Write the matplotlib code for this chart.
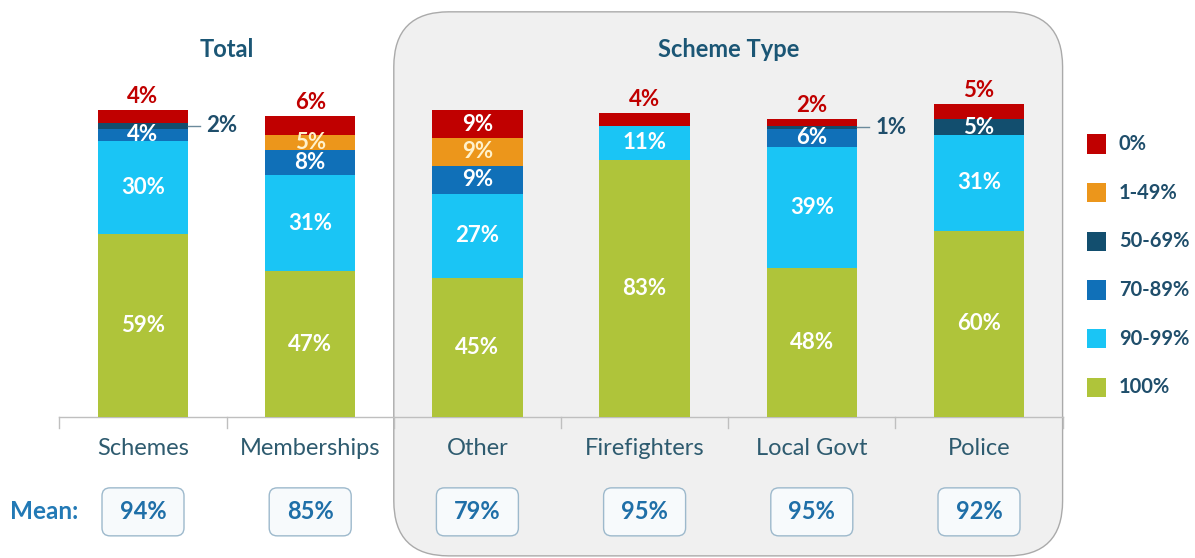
import matplotlib
matplotlib.use("Agg")
import matplotlib.pyplot as plt
from matplotlib.patches import FancyBboxPatch, Rectangle
from matplotlib.transforms import IdentityTransform
import numpy as np

plt.rcParams['font.family'] = ['Lato', 'DejaVu Sans']

# ---- data ----
categories = ['Schemes', 'Memberships', 'Other', 'Firefighters', 'Local Govt', 'Police']
bands = ['100%', '90-99%', '70-89%', '50-69%', '1-49%', '0%']   # stacking order, bottom -> top
band_colors = ['#AFC43A', '#1AC5F5', '#1070B8', '#124E6E', '#EC961B', '#C00000']
label_colors = ['white', 'white', 'white', 'white', '#FFF2CC', 'white']

v100 = [59, 47, 45, 83, 48, 60]
v90_99 = [30, 31, 27, 11, 39, 31]
v70_89 = [4, 8, 9, 0, 6, 0]
v50_69 = [2, 0, 0, 0, 1, 5]
v1_49 = [0, 5, 9, 0, 0, 0]
v0 = [4, 6, 9, 4, 2, 5]
means = ['94%', '85%', '79%', '95%', '95%', '92%']

group_titles = ['Total', 'Scheme Type']
group_members = [[0, 1], [2, 3, 4, 5]]

series = [v100, v90_99, v70_89, v50_69, v1_49, v0]

# ---- figure ----
fig = plt.figure(figsize=(11.95, 5.58), dpi=100)
ax = fig.add_axes([0, 0, 1, 1])
px_x = 167.2   # px per category
px_y = 3.10    # px per percent
x0, y0 = 143, 141
ax.set_xlim(-x0 / px_x, (1195 - x0) / px_x)
ax.set_ylim(-y0 / px_y, (558 - y0) / px_y)
ax.axis('off')

x = np.arange(len(categories))

# rounded panel behind scheme-type group
disp = ax.transData.transform
(bx0, by0) = disp((1.5, -44.8))
(bx1, by1) = disp((5.5, 130.7))
panel = FancyBboxPatch((bx0, by0), bx1 - bx0, by1 - by0,
                       boxstyle="round,pad=0,rounding_size=55",
                       transform=IdentityTransform(), facecolor='#F0F0F0',
                       edgecolor='#AAAAAA', linewidth=1.0, zorder=0, clip_on=False)
ax.add_artist(panel)

# axis line + tick separators
ax.plot([-0.5, 5.5], [0, 0], color='#BFBFBF', lw=1, zorder=1)
for t in np.arange(-0.5, 6, 1.0):
    ax.plot([t, t], [0, -3.6], color='#BFBFBF', lw=1, zorder=1)

# stacked bars
width = 0.54
fs = 16
bottom = np.zeros(len(categories))
for i, (vals, col) in enumerate(zip(series, band_colors)):
    vals = np.array(vals, dtype=float)
    ax.bar(x, vals, width, bottom=bottom, color=col, zorder=2)
    for j, v in enumerate(vals):
        if v == 0:
            continue
        mid = bottom[j] + v / 2
        if i == len(series) - 1 and v < 7:
            # small 0% band: label above the bar
            ax.text(x[j], bottom[j] + v + 4.4, f"{int(v)}%", ha='center', va='center',
                    color='#C00000', fontsize=fs, fontweight='bold')
        elif v < 3:
            # tiny band: leader line to the right
            xr = x[j] + width / 2
            ax.plot([xr, xr + 0.07], [mid, mid], color='#6B8A9C', lw=1, zorder=3)
            ax.text(xr + 0.11, mid, f"{int(v)}%", ha='left', va='center',
                    color='#1F4E6B', fontsize=fs, fontweight='bold')
        else:
            ax.text(x[j], mid, f"{int(v)}%", ha='center', va='center',
                    color=label_colors[i], fontsize=fs, fontweight='bold', zorder=4)
    bottom += vals

# category labels
for j, c in enumerate(categories):
    ax.text(x[j], -10.3, c, ha='center', va='center', color='#2E5B6F', fontsize=17)

# group titles
for title, members in zip(group_titles, group_members):
    ax.text(np.mean(x[members]), 118.4, title, ha='center', va='center',
            color='#1B5675', fontsize=17, fontweight='bold')

# mean row
ax.text(-0.59, -30.6, 'Mean:', ha='center', va='center', color='#2279B5',
        fontsize=17.5, fontweight='bold')
bw, bh = 82 / px_x, 48 / px_y
for j, m in enumerate(means):
    ax.add_patch(FancyBboxPatch((x[j] - bw / 2, -30.6 - bh / 2), bw, bh,
                                boxstyle='round,pad=0,rounding_size=0.048',
                                mutation_aspect=px_x / px_y, facecolor='#F7FAFC',
                                edgecolor='#9DB9CC', linewidth=1, zorder=2))
    ax.text(x[j], -30.6, m, ha='center', va='center', color='#1F6FA8',
            fontsize=17, fontweight='bold', zorder=3)

# legend (top band first)
leg_x = 5.646
for k, idx in enumerate(range(len(bands) - 1, -1, -1)):
    yy = 88.1 - k * 15.7
    ax.add_patch(Rectangle((leg_x, yy - 3.1), 0.113, 6.2, facecolor=band_colors[idx],
                           edgecolor='none', zorder=2))
    ax.text(leg_x + 0.19, yy, bands[idx], ha='left', va='center', color='#1F4E6B',
            fontsize=14.5, fontweight='bold')

fig.savefig('out.png', dpi=100)
